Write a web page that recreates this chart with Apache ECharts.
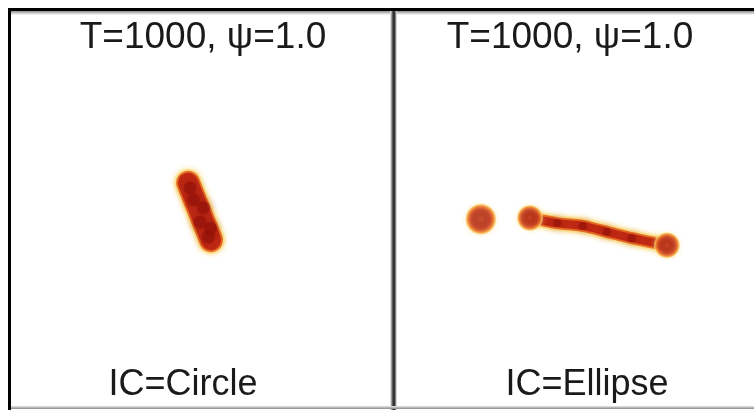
<!DOCTYPE html>
<html>
<head>
<meta charset="utf-8">
<script src="https://cdn.jsdelivr.net/npm/echarts@6/dist/echarts.min.js"></script>
<style>
  html, body { margin: 0; padding: 0; background: #fff; }
  #chart { width: 754px; height: 410px; }
</style>
</head>
<body>
<div id="chart"></div>
<script>
// panel texts
const panelTitles = ['T=1000, \u03c8=1.0', 'T=1000, \u03c8=1.0'];
const icLabels = ['IC=Circle', 'IC=Ellipse'];

// left panel (IC=Circle): one short capsule, domain units 0..100
const circleBody = [[46.5, 43.5], [49.5, 50.8], [52.5, 58.0]];
const circleSpots = [[47.0, 44.8], [47.9, 47.8], [50.5, 49.8], [49.6, 53.4], [52.4, 55.0], [51.8, 57.2]];

// right panel (IC=Ellipse): a detached drop and a filament with end beads
const ellipseDrop = [[23.7, 52.7]];
const ellipseFilament = [[37.4, 52.4], [45.0, 53.7], [52.2, 54.4], [58.9, 55.9], [65.9, 57.5], [75.7, 59.3]];
const ellipseBeads = [[37.4, 52.4], [75.7, 59.3]];
const ellipseSpots = [[45.0, 53.7], [52.2, 54.4], [58.9, 55.9], [65.9, 57.5]];

const chart = echarts.init(document.getElementById('chart'));

function blobGradient() {
  return {
    type: 'radial', x: 0.5, y: 0.5, r: 0.5,
    colorStops: [
      { offset: 0, color: '#c42a10' },
      { offset: 0.3, color: '#a8180c' },
      { offset: 0.6, color: '#b8200f' },
      { offset: 0.78, color: '#e0561a' },
      { offset: 0.9, color: '#f4a63a' },
      { offset: 1, color: 'rgba(252,232,160,0.6)' }
    ]
  };
}

function filamentLayers(data, grid, width) {
  const base = { type: 'line', xAxisIndex: grid, yAxisIndex: grid, data: data, symbol: 'none',
    smooth: 0.3, silent: true, animation: false, z: 2 };
  return [
    Object.assign({}, base, { lineStyle: { width: width + 6, color: '#fbe39a', cap: 'round', join: 'round',
      shadowBlur: 5, shadowColor: 'rgba(250,215,120,0.9)' } }),
    Object.assign({}, base, { lineStyle: { width: width + 2, color: '#ea7a22', cap: 'round', join: 'round' } }),
    Object.assign({}, base, { lineStyle: { width: width - 2, color: '#bf2812', cap: 'round', join: 'round',
      shadowBlur: 3, shadowColor: '#d8401a' } })
  ];
}

function spots(data, grid, size) {
  return { type: 'scatter', xAxisIndex: grid, yAxisIndex: grid, data: data, symbolSize: size,
    silent: true, animation: false, z: 5,
    itemStyle: { color: '#8e0f08', opacity: 0.55, shadowBlur: 8, shadowColor: '#8e0f08' } };
}

function axes(n) {
  const list = [];
  for (let i = 0; i < n; i++) {
    list.push({ type: 'value', gridIndex: i, min: 0, max: 100, show: false });
  }
  return list;
}

const option = {
  backgroundColor: '#ffffff',
  grid: [
    { left: 11, top: 11, width: 381, height: 395 },
    { left: 396, top: 11, width: 358, height: 395 }
  ],
  xAxis: axes(2),
  yAxis: axes(2).map(a => Object.assign(a, { inverse: true })),
  series: [].concat(
    filamentLayers(circleBody, 0, 22),
    [spots(circleSpots, 0, 13)],
    filamentLayers(ellipseFilament, 1, 10),
    [spots(ellipseSpots, 1, 8)],
    [{
      type: 'scatter', xAxisIndex: 1, yAxisIndex: 1, data: ellipseDrop, symbolSize: 31,
      silent: true, animation: false, z: 6,
      itemStyle: { color: blobGradient(), shadowBlur: 4, shadowColor: 'rgba(250,215,120,0.9)' }
    }, {
      type: 'scatter', xAxisIndex: 1, yAxisIndex: 1, data: ellipseBeads, symbolSize: 26,
      silent: true, animation: false, z: 6,
      itemStyle: { color: blobGradient(), shadowBlur: 4, shadowColor: 'rgba(250,215,120,0.9)' }
    }]
  ),
  graphic: [
    // frame
    { type: 'rect', shape: { x: 8, y: 8, width: 746, height: 3 }, style: { fill: '#000' }, silent: true },
    { type: 'rect', shape: { x: 11, y: 11, width: 743, height: 4 },
      style: { fill: { type: 'linear', x: 0, y: 0, x2: 0, y2: 1,
        colorStops: [{ offset: 0, color: '#8c8c8c' }, { offset: 1, color: '#ffffff' }] } }, silent: true },
    { type: 'rect', shape: { x: 8, y: 8, width: 3, height: 402 }, style: { fill: '#000' }, silent: true },
    { type: 'rect', shape: { x: 390, y: 11, width: 7, height: 399 },
      style: { fill: { type: 'linear', x: 0, y: 0, x2: 1, y2: 0,
        colorStops: [{ offset: 0, color: '#ffffff' }, { offset: 0.45, color: '#333' },
          { offset: 0.65, color: '#333' }, { offset: 1, color: '#ffffff' }] } }, silent: true },
    { type: 'rect', shape: { x: 11, y: 406, width: 743, height: 3 },
      style: { fill: { type: 'linear', x: 0, y: 0, x2: 0, y2: 1,
        colorStops: [{ offset: 0, color: '#e6e6e6' }, { offset: 1, color: '#8a8a8a' }] } }, silent: true },
    // texts
    { type: 'text', x: 203, y: 38, style: { text: panelTitles[0], fill: '#1a1a1a',
      font: '37px "Liberation Sans"', textAlign: 'center', textVerticalAlign: 'middle' } },
    { type: 'text', x: 570, y: 38, style: { text: panelTitles[1], fill: '#1a1a1a',
      font: '37px "Liberation Sans"', textAlign: 'center', textVerticalAlign: 'middle' } },
    { type: 'text', x: 183, y: 385, style: { text: icLabels[0], fill: '#1a1a1a',
      font: '36px "Liberation Sans"', textAlign: 'center', textVerticalAlign: 'middle' } },
    { type: 'text', x: 587, y: 385, style: { text: icLabels[1], fill: '#1a1a1a',
      font: '36px "Liberation Sans"', textAlign: 'center', textVerticalAlign: 'middle' } }
  ]
};

chart.setOption(option);
</script>
</body>
</html>
